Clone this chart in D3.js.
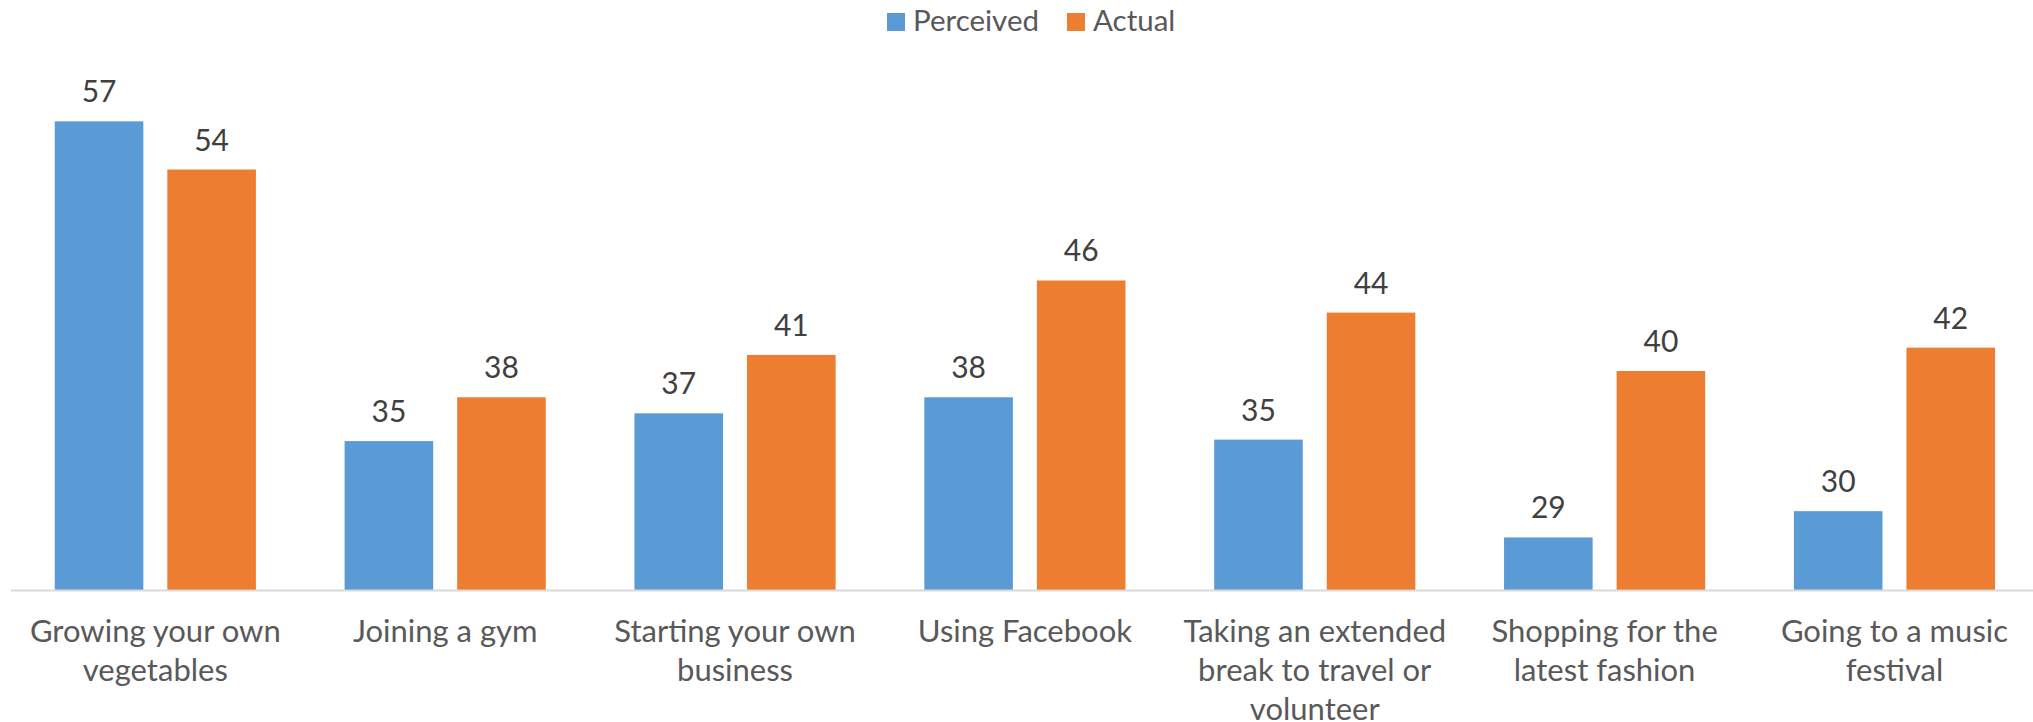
<!DOCTYPE html>
<html>
<head>
<meta charset="utf-8">
<script src="https://cdn.jsdelivr.net/npm/d3@7"></script>
<style>
  html, body { margin: 0; padding: 0; background: #ffffff; }
  svg { display: block; font-family: Lato, "Open Sans", sans-serif; }
</style>
</head>
<body>
<svg id="chart" width="2033" height="722"></svg>
<script>
// ---- data ----
const categories = [
  "Growing your own vegetables",
  "Joining a gym",
  "Starting your own business",
  "Using Facebook",
  "Taking an extended break to travel or volunteer",
  "Shopping for the latest fashion",
  "Going to a music festival"
];
const seriesNames = ["Perceived", "Actual"];
const perceived = [57.1, 35.2, 37.1, 38.2, 35.3, 28.6, 30.4];
const actual    = [53.8, 38.2, 41.1, 46.2, 44.0, 40.0, 41.6];
const seriesColors = ["#5B9BD5", "#ED7D31"];

// ---- layout ----
const W = 2033, H = 722;
const baseY = 590;
const svg = d3.select("#chart");

const x = d3.scaleBand().domain(categories).range([10.4, 2039.4]).paddingInner(0).paddingOuter(0);
const bw = x.bandwidth();
const xs = d3.scaleBand().domain(seriesNames).range([0.153 * bw, 0.847 * bw]).paddingInner(0.213).paddingOuter(0);
const y = d3.scaleLinear().domain([25, 60]).range([baseY, baseY - 35 * 14.6]);

const rows = categories.map((c, i) => ({ cat: c, vals: [perceived[i], actual[i]] }));

// bars
const g = svg.append("g");
const groups = g.selectAll("g.grp").data(rows).join("g")
  .attr("class", "grp")
  .attr("transform", d => `translate(${x(d.cat)},0)`);

groups.selectAll("rect").data(d => d.vals.map((v, j) => ({ v, s: seriesNames[j], j })))
  .join("rect")
  .attr("x", d => xs(d.s))
  .attr("width", xs.bandwidth())
  .attr("y", d => y(d.v))
  .attr("height", d => y(25) - y(d.v))
  .attr("fill", d => seriesColors[d.j]);

groups.selectAll("text.lbl").data(d => d.vals.map((v, j) => ({ v, s: seriesNames[j], j })))
  .join("text")
  .attr("class", "lbl")
  .attr("x", d => xs(d.s) + xs.bandwidth() / 2)
  .attr("y", d => y(d.v) - 19)
  .attr("text-anchor", "middle")
  .attr("font-size", 30)
  .attr("fill", "#404040")
  .text(d => d3.format(".0f")(d.v));

// x axis
const axis = svg.append("g")
  .attr("transform", `translate(0,${baseY})`)
  .call(d3.axisBottom(x).tickSize(0).tickPadding(0));
axis.select(".domain").attr("stroke", "#D9D9D9").attr("stroke-width", 2);
axis.selectAll(".tick text")
  .attr("font-size", 31)
  .attr("fill", "#595959")
  .attr("font-family", "Lato, 'Open Sans', sans-serif")
  .attr("dy", null)
  .attr("y", 52)
  .call(wrap, 280);

function wrap(texts, width) {
  texts.each(function () {
    const text = d3.select(this);
    const words = text.text().split(/\s+/);
    const yy = text.attr("y");
    text.text(null);
    let line = [];
    let lineNo = 0;
    let tspan = text.append("tspan").attr("x", 0).attr("y", yy);
    for (const w of words) {
      line.push(w);
      tspan.text(line.join(" "));
      if (tspan.node().getComputedTextLength() > width && line.length > 1) {
        line.pop();
        tspan.text(line.join(" "));
        line = [w];
        lineNo++;
        tspan = text.append("tspan").attr("x", 0).attr("y", +yy + lineNo * 39).text(w);
      }
    }
  });
}

// legend
const legend = svg.append("g");
const legendX = [887, 1067];
seriesNames.forEach((s, i) => {
  legend.append("rect")
    .attr("x", legendX[i]).attr("y", 13)
    .attr("width", 18).attr("height", 18)
    .attr("fill", seriesColors[i]);
  legend.append("text")
    .attr("x", legendX[i] + 26).attr("y", 31)
    .attr("font-size", 29.5)
    .attr("fill", "#595959")
    .text(s);
});
</script>
</body>
</html>
